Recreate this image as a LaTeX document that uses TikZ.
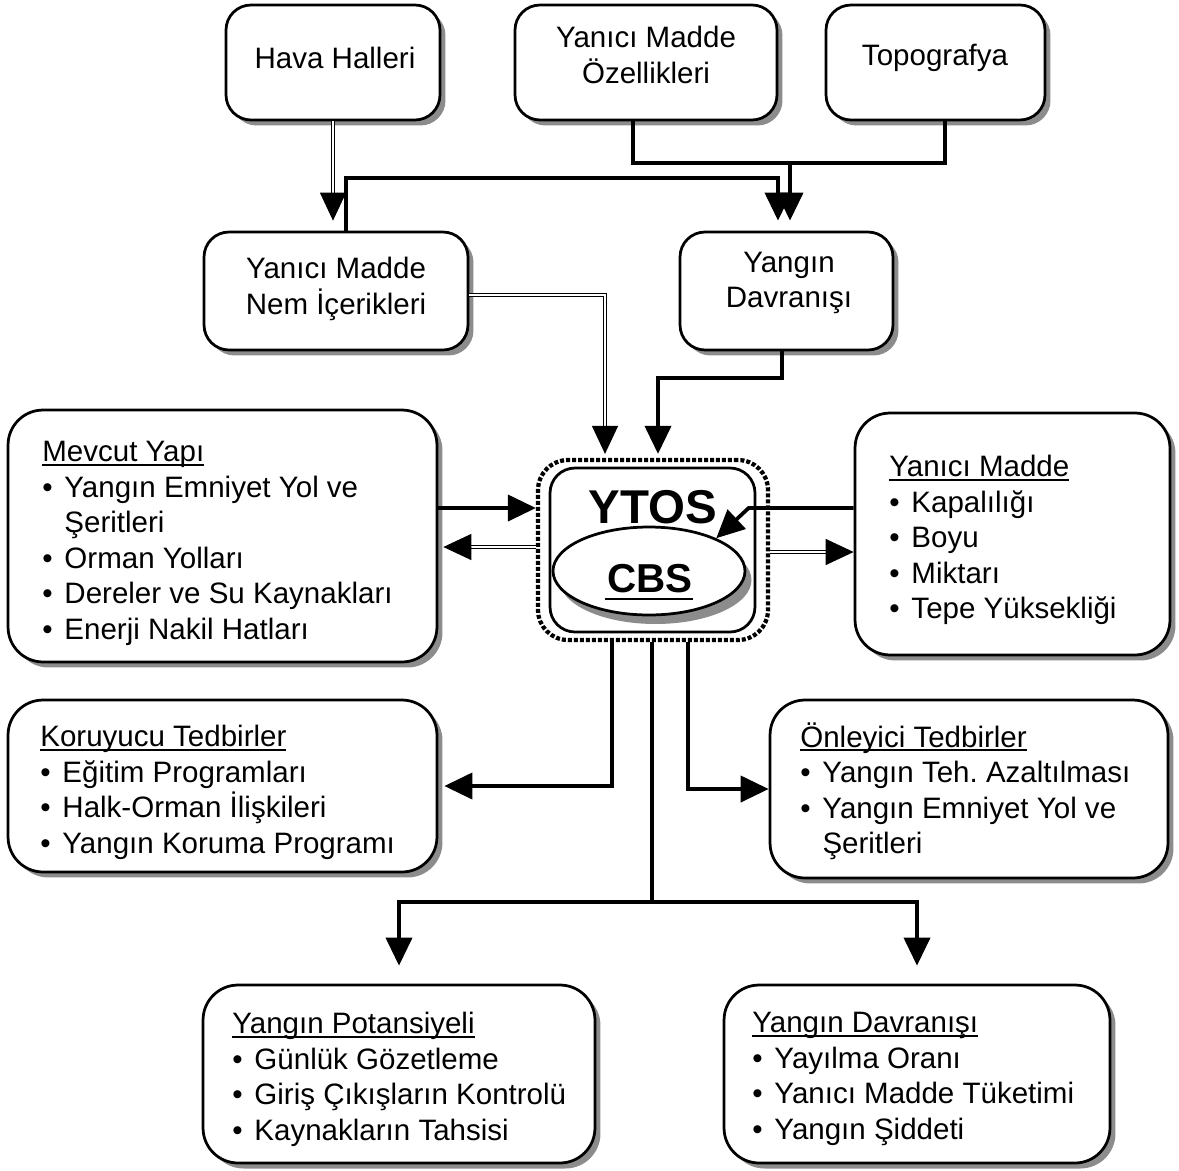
\documentclass[tikz,border=0pt]{standalone}
\usepackage{fontspec}
\setmainfont{Liberation Sans}
\usetikzlibrary{arrows.meta,shapes.geometric,shadows,calc}
\newcommand{\itm}{•\hspace{0.4em}}
\newcommand{\ind}{\phantom{\itm}}
\newcommand{\uln}[1]{\setbox0=\hbox{#1}\rlap{\rule[-2.4pt]{\wd0}{1.1pt}}\box0}
\newcommand{\ulc}[1]{\setbox0=\hbox{#1}\rlap{\kern-1.5pt\rule[-4.8pt]{\dimexpr\wd0+1.5pt\relax}{1.6pt}}\box0}
\begin{document}
\frenchspacing
\begin{tikzpicture}[x=0.02cm,y=-0.02cm,
  every node/.style={font=\fontsize{16.8}{20.2}\selectfont, inner sep=0pt},
  sbox/.style={draw, line width=0.055cm, fill=white, rounded corners=0.5cm,
    drop shadow={shadow xshift=0.11cm, shadow yshift=-0.11cm, fill=black!45, opacity=1}},
  lbox/.style={sbox, rounded corners=0.7cm},
  ctext/.style={align=center},
  ltext/.style={align=left, anchor=north west},
  conn/.style={line width=0.075cm, -{Triangle[width=0.52cm,length=0.56cm]}},
  plain/.style={line width=0.075cm},
  dline/.style={double, line width=0.024cm, double distance=0.03cm, -{Triangle[width=0.52cm,length=0.56cm]}},
]
\useasboundingbox (0,0) rectangle (1179,1170);
\fill[white] (0,0) rectangle (1179,1170);

% top row
\node[sbox, minimum width=4.28cm, minimum height=2.30cm] (hava) at (333,62.5) {};
\node[ctext] (hava-t) at (335,58) {Hava Halleri};
\node[sbox, minimum width=5.24cm, minimum height=2.30cm] (ozel) at (646,62.5) {};
\node[ctext] (ozel-t) at (646,55) {Yanıcı Madde\\Özellikleri};
\node[sbox, minimum width=4.38cm, minimum height=2.30cm] (topo) at (935.5,62.5) {};
\node[ctext] (topo-t) at (935,58) {Topografya};

% second row
\node[sbox, minimum width=5.28cm, minimum height=2.36cm] (nem) at (336,291) {};
\node[ctext] (nem-t) at (336,289) {Yanıcı Madde\\Nem İçerikleri};
\node[sbox, minimum width=4.26cm, minimum height=2.36cm] (yd) at (786.5,291) {};
\node[ctext] (yd-t) at (789,283) {Yangın\\Davranışı};

% side boxes
\node[lbox, minimum width=8.58cm, minimum height=5.04cm] (mevcut) at (222.5,536) {};
\node[ltext] (mevcut-t) at (42,441)
  {\uln{Mevcut Yapı}\\
   \itm Yangın Emniyet Yol ve\\
   \ind Şeritleri\\
   \itm Orman Yolları\\
   \itm Dereler ve Su Kaynakları\\
   \itm Enerji Nakil Hatları};
\node[lbox, minimum width=6.30cm, minimum height=4.84cm] (yanici) at (1012.5,534) {};
\node[ltext] (yanici-t) at (889,455)
  {\uln{Yanıcı Madde}\\
   \itm Kapalılığı\\
   \itm Boyu\\
   \itm Miktarı\\
   \itm Tepe Yüksekliği};
\node[lbox, minimum width=8.58cm, minimum height=3.44cm] (koru) at (222.5,786) {};
\node[ltext] (koru-t) at (40,725)
  {\uln{Koruyucu Tedbirler}\\
   \itm Eğitim Programları\\
   \itm Halk-Orman İlişkileri\\
   \itm Yangın Koruma Programı};
\node[lbox, minimum width=7.96cm, minimum height=3.56cm] (onle) at (969,789) {};
\node[ltext] (onle-t) at (800,722)
  {\uln{Önleyici Tedbirler}\\
   \itm Yangın Teh. Azaltılması\\
   \itm Yangın Emniyet Yol ve\\
   \ind Şeritleri};

% bottom boxes
\node[lbox, minimum width=7.84cm, minimum height=3.56cm] (pot) at (399,1074) {};
\node[ltext] (pot-t) at (232,1012)
  {\uln{Yangın Potansiyeli}\\
   \itm Günlük Gözetleme\\
   \itm Giriş Çıkışların Kontrolü\\
   \itm Kaynakların Tahsisi};
\node[lbox, minimum width=7.72cm, minimum height=3.56cm] (dav) at (917,1074) {};
\node[ltext] (dav-t) at (752,1012)
  {\uln{Yangın Davranışı}\\
   \itm Yayılma Oranı\\
   \itm Yanıcı Madde Tüketimi\\
   \itm Yangın Şiddeti};

% central system
\node[draw, line width=0.085cm, dash pattern=on 0.08cm off 0.04cm, rounded corners=0.6cm,
      minimum width=4.60cm, minimum height=3.60cm] (outer) at (653,550) {};
\node[draw, line width=0.055cm, rounded corners=0.5cm, fill=white,
      minimum width=4.10cm, minimum height=3.28cm] (inner) at (652.5,550) {};
\node[ellipse, draw, line width=0.055cm, fill=white, minimum width=3.84cm, minimum height=1.76cm,
      drop shadow={shadow xshift=0.13cm, shadow yshift=-0.18cm, fill=black!45, opacity=1}] (cbs) at (649,571) {};
\node[anchor=base, font=\fontsize{27}{30}\selectfont\bfseries] (ytos) at (653,523) {YTOS};
\node[anchor=base, font=\fontsize{23}{28}\selectfont\bfseries] (cbst) at (650,592) {\ulc{CBS}};

% connectors, top
\draw[dline, shorten >=0.2cm] (hava.south) -- (hava.south |- nem.north);
\coordinate (j1) at (790,163);
\draw[conn, shorten >=0.2cm] ([xshift=-0.26cm]ozel.south) |- (j1) -- (j1 |- yd.north);
\draw[plain] ([xshift=0.19cm]topo.south) |- (j1);
\coordinate (j2) at (778,178);
\draw[conn, shorten >=0.2cm] ([xshift=0.2cm]nem.north) |- (j2) -- (j2 |- yd.north);

% into YTOS
\draw[dline, shorten >=0.08cm] ([yshift=-0.08cm]nem.east) -| ([xshift=-0.96cm]outer.north);
\coordinate (j3) at (658,378);
\draw[conn, shorten >=0.08cm] ([xshift=-0.09cm]yd.south) |- (j3) -- (j3 |- outer.north);

% left
\coordinate (gL) at ([yshift=0.56cm]mevcut.east);
\draw[conn] (gL) -- (gL -| outer.west);
\coordinate (hR) at ([yshift=0.06cm]outer.west);
\draw[dline, shorten >=0.1cm] (hR) -- (hR -| mevcut.east);

% right
\coordinate (iR) at ([yshift=0.52cm]yanici.west);
\draw[conn] (iR) -- ++(-105,0) -- (cbs.26);
\coordinate (jL) at ([yshift=-0.04cm]outer.east);
\draw[dline] (jL) -- (jL -| yanici.west);

% bottom
\coordinate (kT) at ([xshift=-0.82cm]outer.south);
\draw[conn, shorten >=0.12cm] (kT) |- (koru.east);
\coordinate (lT) at ([xshift=-0.02cm]outer.south);
\path (lT) ++(0,260) coordinate (split);
\draw[plain] (lT) -- (split);
\draw[conn, shorten >=0.36cm] (split) -| (pot.north);
\draw[conn, shorten >=0.36cm] (split) -| (dav.north);
\coordinate (mT) at ([xshift=0.7cm]outer.south);
\draw[conn] (mT) |- (onle.west);
\end{tikzpicture}
\end{document}
